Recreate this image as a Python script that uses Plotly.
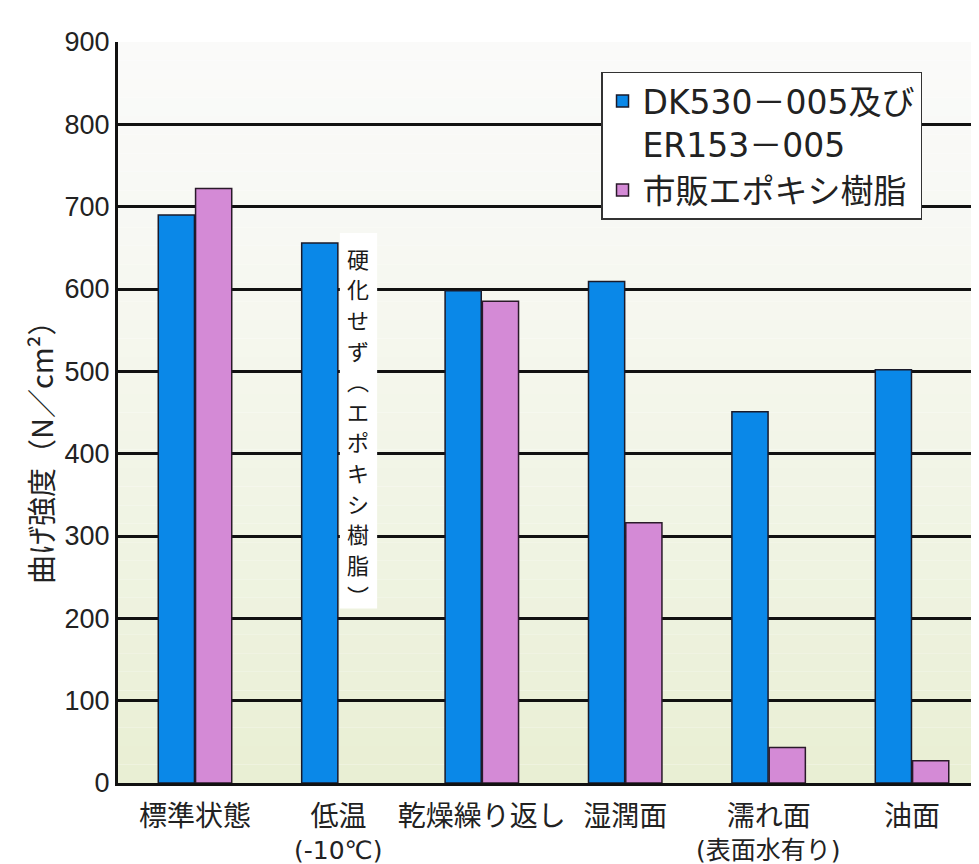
import plotly.graph_objects as go

categories = ["標準状態", "低温", "乾燥繰り返し", "湿潤面", "濡れ面", "油面"]
category_sublabels = ["", "(-10℃)", "", "", "(表面水有り)", ""]
dk_values = [690, 656, 598, 609, 451, 502]
epoxy_values = [722, None, 585, 316, 43, 27]
series_names = ["DK530－005及び<br>ER153－005", "市販エポキシ樹脂"]
y_ticks = [0, 100, 200, 300, 400, 500, 600, 700, 800, 900]
note_chars = list("硬化せず") + ["︵"] + list("エポキシ樹脂") + ["︶"]

W, H = 971, 856
ML, MR, MT, MB = 110, 0, 34, 81
PW, PH = W - ML - MR, H - MT - MB

fig = go.Figure()
fig.add_trace(go.Bar(
    x=categories, y=dk_values, name=series_names[0],
    marker=dict(color="#0a88e8", line=dict(color="#1a1a2a", width=1.5)),
))
fig.add_trace(go.Bar(
    x=categories, y=epoxy_values, name=series_names[1],
    marker=dict(color="#d48ad6", line=dict(color="#2a1a2a", width=1.5)),
))

# background gradient (white at top to pale yellow-green at bottom)
n = 40
top = (250, 250, 249)
bot = (233, 239, 212)
for i in range(n):
    t = i / (n - 1)
    f = t ** 1.3
    c = tuple(int(round(top[k] + (bot[k] - top[k]) * f)) for k in range(3))
    y1 = 900 - 900 * i / n
    y0 = 900 - 900 * (i + 1) / n
    fig.add_shape(type="rect", xref="x domain", yref="y", x0=0, x1=1, y0=y0, y1=y1,
                  fillcolor="rgb(%d,%d,%d)" % c, line=dict(width=0), layer="below")

# vertical note for the missing bar (white panel + stacked upright characters)
fig.add_shape(type="rect", xref="x", yref="y", x0=1.01, x1=1.27, y0=212, y1=668,
              fillcolor="white", line=dict(width=0), layer="above")
y_first, step = 638, 37.2
for k, ch in enumerate(note_chars):
    fig.add_annotation(x=1.14, y=y_first - k * step, xref="x", yref="y", text=ch,
                       showarrow=False, yanchor="middle",
                       font=dict(family="Noto Sans CJK JP", size=22, color="#1a1a1a"),
                       borderpad=0)

# second lines of category labels
for i, sub in enumerate(category_sublabels):
    if sub:
        fig.add_annotation(x=i, y=-(842 - (MT + PH)) / PH, xref="x", yref="paper",
                           text=sub, showarrow=False, yanchor="middle",
                           font=dict(family="DejaVu Sans, Noto Sans CJK JP", size=25, color="#222"))

# y-axis title
fig.add_annotation(x=-(110 - 32) / PW, y=(775 - 437) / PH, xref="paper", yref="paper",
                   text="曲げ強度（N／cm²）", textangle=-90, showarrow=False,
                   xanchor="center", yanchor="middle",
                   font=dict(family="Noto Sans CJK JP", size=29, color="#222"))

fig.update_layout(
    width=W, height=H,
    margin=dict(l=ML, r=MR, t=MT, b=MB),
    paper_bgcolor="white", plot_bgcolor="white",
    barmode="group", bargap=0.48, bargroupgap=0.03,
    font=dict(family="Noto Sans CJK JP", color="#222"),
    showlegend=True,
    legend=dict(
        x=0.561, y=0.96, xanchor="left", yanchor="top",
        bgcolor="white", bordercolor="#333", borderwidth=1.5,
        font=dict(family="DejaVu Sans, Noto Sans CJK JP", size=33, color="#222"),
        valign="top", tracegroupgap=0, itemwidth=30,
    ),
    xaxis=dict(
        range=[-0.537, 5.467], showgrid=False, showline=True, linecolor="#111", linewidth=3,
        ticks="", ticklabelstandoff=6,
        tickfont=dict(family="Noto Sans CJK JP", size=28, color="#222"),
    ),
    yaxis=dict(
        range=[0, 900], tickvals=y_ticks, showgrid=True, gridcolor="#111", gridwidth=3,
        showline=True, linecolor="#111", linewidth=3, ticks="", zeroline=False,
        tickfont=dict(family="Liberation Sans Narrow, Arial Narrow, Liberation Sans", size=27, color="#222"),
    ),
)

fig.write_html("out.html")
